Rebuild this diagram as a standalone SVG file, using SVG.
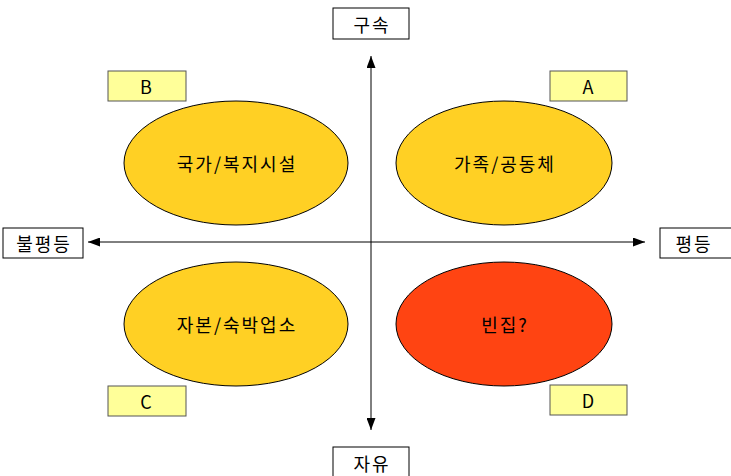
<svg xmlns="http://www.w3.org/2000/svg" width="731" height="476" viewBox="0 0 731 476">
<defs>
<marker id="ah" viewBox="0 0 10 10" refX="10" refY="5" markerWidth="12" markerHeight="9" markerUnits="userSpaceOnUse" orient="auto-start-reverse" preserveAspectRatio="none">
<path d="M0,0 L10,5 L0,10 z" fill="#000"/>
</marker>
<style>
text{font-family:"Noto Sans CJK KR","Liberation Sans",sans-serif;font-size:18px;fill:#000;text-anchor:middle;dominant-baseline:central;letter-spacing:2px}
.axis{fill:#fff;stroke:#000;stroke-width:1}
.tag{fill:#FFFF99;stroke:#555;stroke-width:1}
.ell{fill:#FFD024;stroke:#000;stroke-width:1}
.red{fill:#FF4412;stroke:#000;stroke-width:1}
.conn{stroke:#000;stroke-width:1;fill:none}
</style>
</defs>
<rect width="731" height="476" fill="#fff"/>
<g id="connectors">
<line class="conn" x1="371" y1="430" x2="371" y2="56" marker-end="url(#ah)" marker-start="url(#ah)"/>
<line class="conn" x1="88" y1="242" x2="645" y2="242" marker-end="url(#ah)" marker-start="url(#ah)"/>
</g>
<g id="top"><rect class="axis" x="333" y="8" width="76" height="31"/><text x="372" y="24">구속</text></g>
<g id="bottom"><rect class="axis" x="333" y="447" width="76" height="31"/><text x="372" y="463">자유</text></g>
<g id="left"><rect class="axis" x="3" y="228" width="80" height="30"/><text x="44" y="243">불평등</text></g>
<g id="right"><rect class="axis" x="660" y="228" width="72" height="30"/><text x="694" y="243">평등</text></g>
<g id="B"><rect class="tag" x="108" y="71" width="78" height="30"/><text x="147" y="86">B</text></g>
<g id="A"><rect class="tag" x="550" y="71" width="77" height="30"/><text x="589" y="86">A</text></g>
<g id="C"><rect class="tag" x="108" y="386" width="78" height="30"/><text x="147" y="401">C</text></g>
<g id="D"><rect class="tag" x="550" y="385" width="77" height="30"/><text x="589" y="400">D</text></g>
<g id="ellB"><ellipse class="ell" cx="236" cy="163" rx="112" ry="62"/><text x="237" y="163">국가/복지시설</text></g>
<g id="ellA"><ellipse class="ell" cx="504" cy="163" rx="108" ry="62"/><text x="505" y="163">가족/공동체</text></g>
<g id="ellC"><ellipse class="ell" cx="236" cy="324" rx="112" ry="62"/><text x="237" y="324">자본/숙박업소</text></g>
<g id="ellD"><ellipse class="red" cx="504" cy="324" rx="108" ry="62"/><text x="505" y="324">빈집?</text></g>
</svg>
